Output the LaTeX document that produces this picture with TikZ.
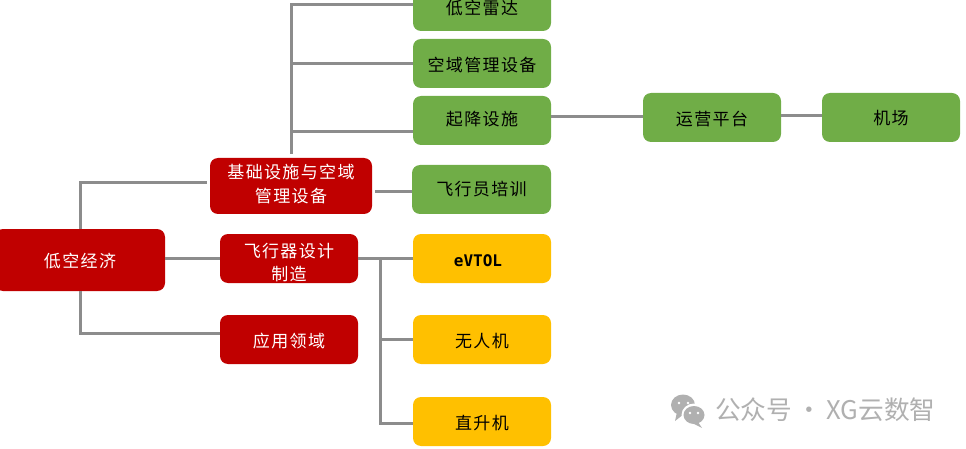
\documentclass[tikz,border=0pt]{standalone}
\usepackage{fontspec}
\newfontfamily\cjk[LetterSpace=8]{Noto Sans CJK SC}
\newfontfamily\wm{Noto Sans CJK SC}
\newfontfamily\latinmono{DejaVu Sans Mono}
\newcommand{\lowered}[2]{\raisebox{-#1pt}[\height][\depth]{#2}}
\tikzset{
  x=1pt,y=-1pt,
  box/.style={rectangle,rounded corners=8pt,inner sep=0pt,align=center,minimum width=138pt,minimum height=49pt,
    font=\cjk\fontsize{17}{24}\selectfont},
  redbox/.style={box,fill=boxred,text=white},
  greenbox/.style={box,fill=boxgreen,text=black},
  yellowbox/.style={box,fill=boxyellow,text=black},
  conn/.style={draw=linegray,line width=3pt},
  mark text/.style={text=wmgray,inner sep=0pt,anchor=west,font=\wm\fontsize{25.7}{30}\selectfont},
}
\definecolor{boxred}{HTML}{C00000}
\definecolor{boxgreen}{HTML}{70AD47}
\definecolor{boxyellow}{HTML}{FFC000}
\definecolor{linegray}{HTML}{8C8C8C}
\definecolor{wmgray}{HTML}{B0B0B0}
\begin{document}
\begin{tikzpicture}
\useasboundingbox (0,0) rectangle (966,449);
\clip (0,0) rectangle (966,449);
% nodes
\node[redbox,minimum width=170pt,minimum height=62pt] (root) at (80,260) {\lowered{1}{低空经济}};
\node[redbox,minimum width=162pt,minimum height=56pt] (infra) at (291,186) {\lowered{-2}{基础设施与空域}\\\lowered{-2}{管理设备}};
\node[redbox] (design) at (289,258.5) {\lowered{5}{飞行器设计}\\\lowered{4}{制造}};
\node[redbox] (app) at (289,339.5) {\lowered{2}{应用领域}};
\node[greenbox] (radar) at (482,6.5) {\lowered{2}{低空雷达}};
\node[greenbox] (airspace) at (482,63.5) {\lowered{2}{空域管理设备}};
\node[greenbox] (takeoff) at (482,120.5) {\lowered{-1}{起降设施}};
\node[greenbox,minimum width=139pt] (pilot) at (481.5,189.5) {飞行员培训};
\node[greenbox] (platform) at (712,117.5) {\lowered{2}{运营平台}};
\node[greenbox] (airport) at (891,117.5) {\lowered{1}{机场}};
\node[yellowbox,font=\latinmono\bfseries\fontsize{16}{24}\selectfont] (evtol) at (482,258.5) {\lowered{2}{eVTOL}\hspace*{8pt}};
\node[yellowbox] (uav) at (482,339.5) {\lowered{2}{无人机}};
\node[yellowbox] (heli) at (482,421.5) {\lowered{2}{直升机}};
% junctions
\coordinate (infratop) at (291,5);
\coordinate (designjoin) at (380,258);
% connectors
\draw[conn,shorten >=3pt] (root.north) |- (infra.west |- 0,183);
\draw[conn] (root.south) |- (app.west |- 0,333);
\draw[conn] (root.east |- 0,258) -- (design.west |- 0,258);
\draw[conn,shorten <=4pt] (infra.north) -- (infratop) -- (infratop -| radar.west);
\draw[conn] (infra.north |- airspace.west) -- (airspace.west);
\draw[conn] (infra.north |- 0,132) -- (takeoff.west |- 0,132);
\draw[conn,shorten <=3pt] (infra.east |- 0,192) -- (pilot.west |- 0,192);
\draw[conn] (takeoff.east |- 0,117) -- (platform.west |- 0,117);
\draw[conn] (platform.east |- 0,116) -- (airport.west |- 0,116);
\draw[conn] (design.east |- 0,258) -- (evtol.west |- 0,258);
\draw[conn] (designjoin) |- (heli.west |- 0,423);
\draw[conn] (designjoin |- uav.west) -- (uav.west);
% watermark
\fill[wmgray] (683,405) ellipse (12pt and 10.5pt);
\fill[wmgray] (677,412) -- (675,421) -- (684,414) -- cycle;
\fill[white] (694,415) ellipse (12.5pt and 11.5pt);
\fill[wmgray] (694,415) ellipse (10.5pt and 9pt);
\fill[wmgray] (698,422) -- (702,428) -- (692,423) -- cycle;
\fill[white] (679,403) circle (1.4pt) (688,403) circle (1.4pt) (690,413) circle (1.4pt) (698,413) circle (1.4pt);
\node[mark text] (mark) at (715,410) {公众号\,·\,XG云数智};
\end{tikzpicture}
\end{document}
